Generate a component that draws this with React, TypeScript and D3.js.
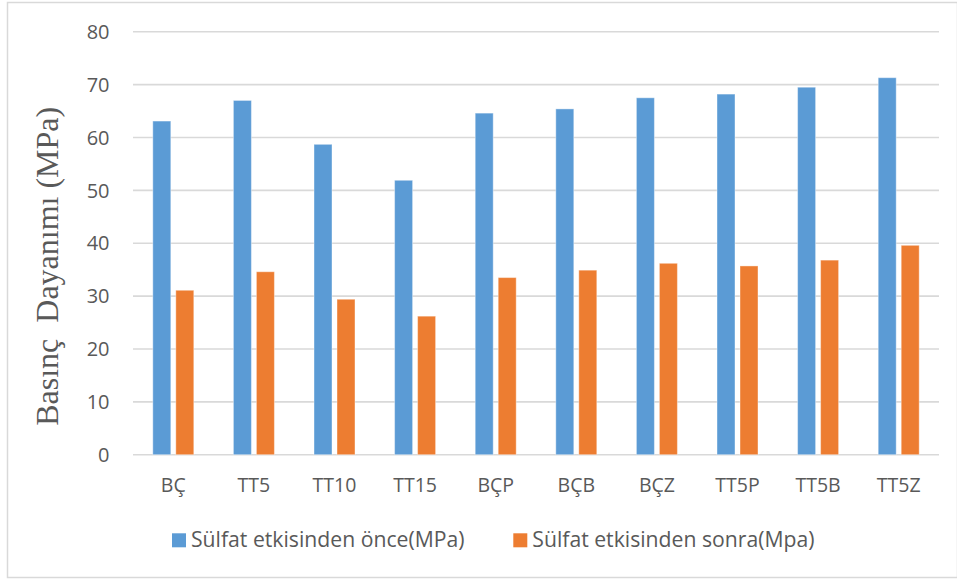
import React from "react";
import * as d3 from "d3";

const categories = ["BÇ", "TT5", "TT10", "TT15", "BÇP", "BÇB", "BÇZ", "TT5P", "TT5B", "TT5Z"];
const beforeValues = [63.1, 67.0, 58.7, 51.9, 64.6, 65.4, 67.5, 68.2, 69.5, 71.3];
const afterValues = [31.1, 34.6, 29.4, 26.2, 33.5, 34.9, 36.2, 35.7, 36.8, 39.6];
const seriesNames = ["Sülfat etkisinden önce(MPa)", "Sülfat etkisinden sonra(Mpa)"];
const seriesColors = ["#5B9BD5", "#ED7D31"];
const yTicks = [0, 10, 20, 30, 40, 50, 60, 70, 80];
const yTitle = "Basınç  Dayanımı (MPa)";

const W = 957;
const H = 581;
const left = 133;
const right = 939;
const top = 31.7;
const bottom = 454.7;

export default function App() {
  const x = d3.scaleBand<string>().domain(categories).range([left, right]).padding(0);
  const y = d3.scaleLinear().domain([0, 80]).range([bottom, top]);
  const inner = d3.scaleBand<string>().domain(["0", "1"]).range([0, 41]).paddingInner(5 / 23).paddingOuter(0);
  const series = [beforeValues, afterValues];
  const font = "'Open Sans', 'Noto Sans', sans-serif";
  const legendX = [172, 513.3];
  return (
    <svg width={W} height={H} style={{ position: "absolute", left: 0, top: 0, background: "#fff" }}>
      <rect x={7.5} y={2.5} width={950} height={575} fill="#fff" stroke="#D9D9D9" strokeWidth={1.5} />
      {yTicks.map((t) => (
        <g key={t}>
          <line x1={left} x2={right} y1={y(t)} y2={y(t)} stroke="#D9D9D9" strokeWidth={1.6} />
          <text x={109.5} y={y(t)} dy="0.36em" textAnchor="end" fontFamily={font} fontSize={20} fill="#595959">
            {t}
          </text>
        </g>
      ))}
      {series.map((vals, si) =>
        categories.map((c, i) => {
          const cx = (x(c) as number) + x.bandwidth() / 2;
          const bx = cx - 20.5 + (inner(String(si)) as number);
          return (
            <rect
              key={c + si}
              x={bx}
              y={y(vals[i])}
              width={inner.bandwidth()}
              height={y(0) - y(vals[i])}
              fill={seriesColors[si]}
              stroke="#fff"
              strokeOpacity={0.4}
              strokeWidth={1}
            />
          );
        })
      )}
      {categories.map((c) => (
        <text
          key={c}
          x={(x(c) as number) + x.bandwidth() / 2}
          y={492.3}
          textAnchor="middle"
          fontFamily={font}
          fontSize={19.5}
          fill="#595959"
        >
          {c}
        </text>
      ))}
      <text
        transform={`translate(58.3,266.3) rotate(-90)`}
        textAnchor="middle"
        fontFamily="'Liberation Serif', 'Times New Roman', serif"
        fontSize={32}
        fill="#595959"
        style={{ whiteSpace: "pre" }}
      >
        {yTitle}
      </text>
      {seriesNames.map((n, i) => {
        const lx = legendX[i];
        return (
          <g key={n}>
            <rect x={lx} y={533.3} width={14} height={14} fill={seriesColors[i]} />
            <text x={lx + 19} y={547.3} fontFamily={font} fontSize={21.2} fill="#595959">
              {n}
            </text>
          </g>
        );
      })}
    </svg>
  );
}
